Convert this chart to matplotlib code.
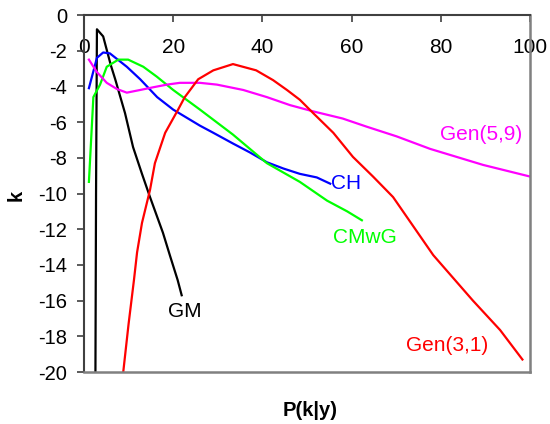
import matplotlib
matplotlib.use("Agg")
import matplotlib.pyplot as plt

plt.rcParams['font.family'] = ['Liberation Sans', 'DejaVu Sans']

# Data
gm_x = [2.55, 2.7, 2.9, 4.3, 6.0, 7.0, 9.2, 11.0, 13.0, 14.8, 17.7, 19.3, 21.0, 21.9]
gm_y = [-21.0, -10.0, -0.8, -1.2, -2.8, -3.6, -5.5, -7.4, -8.9, -10.2, -12.2, -13.5, -14.85, -15.7]

ch_x = [1.1, 2.9, 4.3, 5.8, 9.6, 12.6, 16.4, 20.0, 26.0, 29.0, 33.4, 37.2, 41.0, 44.7, 48.4, 52.2, 55.2]
ch_y = [-4.1, -2.4, -2.1, -2.15, -2.9, -3.6, -4.6, -5.3, -6.2, -6.6, -7.2, -7.7, -8.25, -8.6, -8.9, -9.1, -9.45]

cmwg_x = [1.1, 2.1, 3.6, 5.1, 7.7, 9.9, 13.3, 16.3, 20.0, 23.0, 26.0, 33.4, 41.0, 48.4, 54.5, 59.0, 62.3]
cmwg_y = [-9.35, -4.6, -3.9, -2.9, -2.5, -2.5, -2.9, -3.45, -4.2, -4.75, -5.3, -6.7, -8.3, -9.35, -10.4, -11.0, -11.5]

g59_x = [1.1, 2.9, 5.1, 7.4, 9.6, 12.6, 15.5, 18.6, 21.5, 26.0, 29.8, 35.7, 41.0, 46.2, 51.4, 58.0, 63.3, 70.1, 77.6, 89.5, 100.0]
g59_y = [-2.5, -3.2, -3.8, -4.15, -4.35, -4.2, -4.05, -3.9, -3.8, -3.8, -3.9, -4.2, -4.6, -5.05, -5.4, -5.8, -6.25, -6.8, -7.5, -8.4, -9.05]

g31_x = [8.8, 10.0, 11.2, 11.9, 13.0, 14.8, 15.9, 18.2, 21.1, 22.6, 25.6, 29.0, 33.4, 38.6, 42.4, 45.5, 48.4, 51.4, 55.9, 60.3, 64.8, 69.3, 78.3, 87.2, 93.3, 98.3]
g31_y = [-20.0, -17.3, -14.85, -13.3, -11.65, -9.8, -8.3, -6.6, -5.3, -4.6, -3.6, -3.1, -2.75, -3.1, -3.65, -4.2, -4.75, -5.5, -6.6, -7.95, -9.05, -10.2, -13.45, -16.0, -17.65, -19.3]

x_ticks = [0, 20, 40, 60, 80, 100]
y_ticks = [0, -2, -4, -6, -8, -10, -12, -14, -16, -18, -20]

fig = plt.figure(figsize=(5.5, 4.24), dpi=100)
ax = fig.add_axes([84/550, 1-372/424, (530-84)/550, (372-15)/424])

lw = 1.6
ax.plot(gm_x, gm_y, color='black', lw=lw)
ax.plot(ch_x, ch_y, color='#0000ff', lw=lw)
ax.plot(cmwg_x, cmwg_y, color='#00ff00', lw=lw)
ax.plot(g59_x, g59_y, color='#ff00ff', lw=lw)
ax.plot(g31_x, g31_y, color='#ff0000', lw=lw)

ax.set_xlim(0, 100)
ax.set_ylim(-20, 0)
ax.set_xticks(x_ticks)
ax.set_yticks(y_ticks)
ax.set_yticklabels([str(v) for v in y_ticks])

ax.tick_params(axis='x', top=True, bottom=False, labeltop=True, labelbottom=False,
               direction='in', length=5, width=1.2, pad=-30, labelsize=15, color='#404040')
ax.tick_params(axis='y', left=True, direction='out', length=5, width=1.2, labelsize=14.5, pad=7, color='#404040')

for s in ['left', 'top']:
    ax.spines[s].set_color('#404040')
    ax.spines[s].set_linewidth(1.5)
for s in ['right', 'bottom']:
    ax.spines[s].set_color('#808080')
    ax.spines[s].set_linewidth(1.8)

fs = 15
ax.text(22.6, -16.6, 'GM', color='black', fontsize=fs, ha='center', va='center')
ax.text(58.8, -9.45, 'CH', color='#0000ff', fontsize=fs, ha='center', va='center')
ax.text(63.0, -12.45, 'CMwG', color='#00ff00', fontsize=fs, ha='center', va='center')
ax.text(89.0, -6.72, 'Gen(5,9)', color='#ff00ff', fontsize=fs, ha='center', va='center')
ax.text(81.4, -18.5, 'Gen(3,1)', color='#ff0000', fontsize=fs, ha='center', va='center')

fig.text(310/550, 1-410/424, 'P(k|y)', fontsize=14.5, fontweight='bold', ha='center', va='center')
fig.text(16/550, 1-195/424, 'k', fontsize=14.5, fontweight='bold', ha='center', va='center', rotation=90)

fig.savefig('out.png', dpi=100)
